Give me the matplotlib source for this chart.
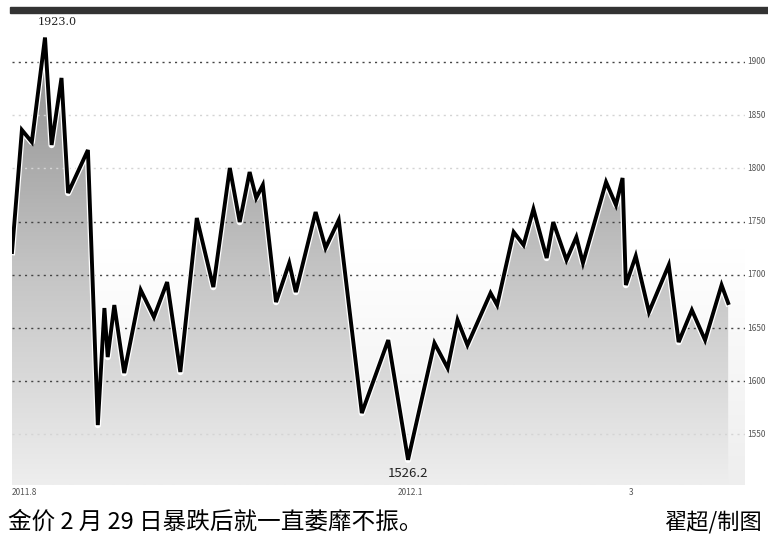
import matplotlib.pyplot as plt
import matplotlib.patheffects as pe
import numpy as np
from matplotlib.colors import LinearSegmentedColormap
from matplotlib.patches import Rectangle

plt.rcParams['font.family'] = ['Noto Sans CJK SC', 'DejaVu Sans']

# days after the first point (early Aug 2011) and gold price, USD/oz
days = [0, 3, 6, 10, 12, 15, 17, 23, 26, 28, 29, 31, 34, 39, 43, 47, 51, 56, 61, 66,
        69, 72, 74, 76, 80, 84, 86, 92, 95, 99, 106, 114, 120, 128, 132, 135, 138, 145,
        147, 152, 155, 158, 162, 164, 168, 171, 173, 180, 183, 185, 186, 189, 193, 199,
        202, 206, 210, 215, 217]
price = [1721.4, 1836.1, 1824.8, 1923.0, 1822.0, 1885.0, 1776.9, 1817.3, 1558.8, 1668.8,
         1622.7, 1671.6, 1607.7, 1685.7, 1660.3, 1693.2, 1608.7, 1753.4, 1688.5, 1800.4,
         1749.6, 1796.6, 1772.2, 1784.4, 1674.4, 1711.1, 1683.8, 1759.0, 1725.2, 1751.5,
         1570.1, 1638.7, 1526.2, 1635.9, 1612.4, 1657.5, 1634.0, 1682.9, 1671.6, 1740.2,
         1728.0, 1761.8, 1715.8, 1749.6, 1713.9, 1735.5, 1711.1, 1787.2, 1765.6, 1791.0,
         1690.4, 1717.7, 1665.0, 1709.2, 1636.8, 1666.9, 1638.7, 1690.4, 1673.5]

grid_levels = [1900, 1850, 1800, 1750, 1700, 1650, 1600, 1550]
grid_strong = [True, False, False, True, True, True, True, False]
date_ticks = [0, 117, 187]
date_labels = ['2011.8', '2012.1', '3']

caption = '金价 2 月 29 日暴跌后就一直萎靡不振。'
credit = '翟超/制图'

x = np.array(days)
y = np.array(price)
xlim = (0, 222.1)
ylim = (1502.5, 1945.1)

fig = plt.figure(figsize=(7.68, 5.46), dpi=100)
ax = fig.add_axes([12 / 768, 61 / 546, 733 / 768, 471 / 546])
ax.axis('off')

# faint light-grey wash at the bottom of the plot area
bg = LinearSegmentedColormap.from_list('bg', ['#ffffff', '#ffffff', '#eeeeee'])
ax.imshow(np.linspace(0, 1, 256).reshape(-1, 1), cmap=bg, aspect='auto',
          extent=(xlim[0], xlim[1], ylim[0], ylim[1]), zorder=0)

# grey gradient under the curve
fill = ax.fill_between(x, y, ylim[0], facecolor='none', edgecolor='none')
cm = LinearSegmentedColormap.from_list('fill', ['#8c8c8c', '#c2c2c2', '#eeeeee'])
grad = ax.imshow(np.linspace(0, 1, 256).reshape(-1, 1), cmap=cm, aspect='auto',
                 extent=(xlim[0], xlim[1], ylim[0], max(price)), zorder=1)
grad.set_clip_path(fill.get_paths()[0], transform=ax.transData)

ax.set_xlim(*xlim)
ax.set_ylim(*ylim)

for lvl, strong in zip(grid_levels, grid_strong):
    ax.axhline(lvl, color='#444444' if strong else '#d4d4d4', lw=1.0,
               ls=(0, (1.5, 3)), zorder=2)
    fig.text(747 / 768, ax.transData.transform((0, lvl))[1] / 546, str(lvl),
             fontsize=6, color='#555555', va='center', ha='left')

ax.plot(x, y, color='black', lw=2.8, zorder=3, solid_joinstyle='miter',
        path_effects=[pe.Stroke(linewidth=4.6, foreground='white', joinstyle='round'),
                      pe.Normal()])

ax.text(x[3] + 3.6, y[3] + 10, '1923.0', fontsize=8, color='#222222', ha='center',
        va='bottom', family='DejaVu Serif')
ax.text(x[32], y[32] - 7, '1526.2', fontsize=9.5, color='#222222', ha='center',
        va='top')

for d, lab in zip(date_ticks, date_labels):
    ax.text(d, ylim[0] - 7, lab, fontsize=6, color='#555555', ha='left', va='center',
            clip_on=False)

# heavy rule across the top
fig.add_artist(Rectangle((10 / 768, 533 / 546), 758 / 768, 6 / 546,
                         transform=fig.transFigure, color='#333333'))

fig.text(8 / 768, 1 - 522 / 546, caption, fontsize=17, color='black', va='center', ha='left')
fig.text(762 / 768, 1 - 522 / 546, credit, fontsize=16, color='black', va='center', ha='right')

fig.savefig('out.png', dpi=100)
